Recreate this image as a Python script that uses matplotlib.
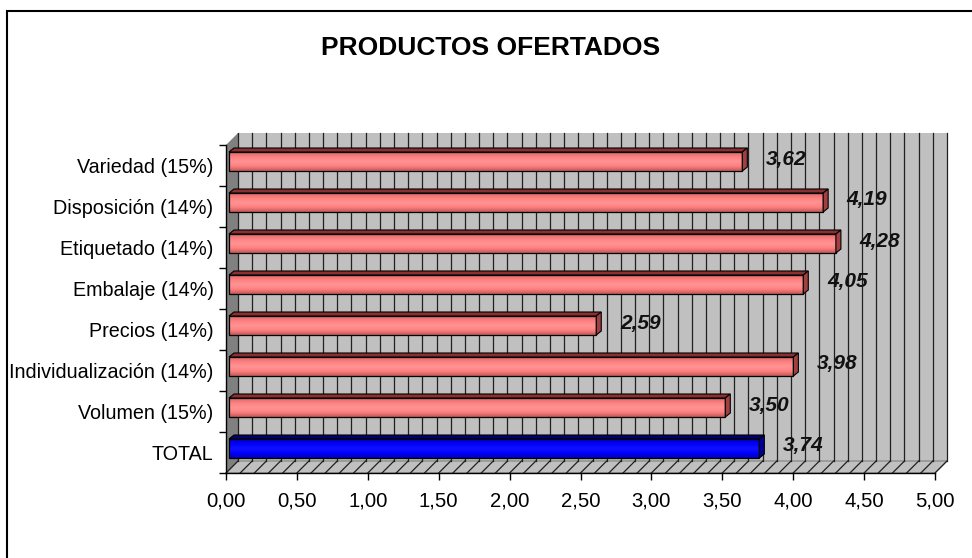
import numpy as np
import matplotlib
matplotlib.use("Agg")
import matplotlib.pyplot as plt
from matplotlib.patches import Polygon, Rectangle
from matplotlib.colors import LinearSegmentedColormap

plt.rcParams['font.family'] = ['Liberation Sans', 'DejaVu Sans']

# data (bottom to top)
categories = ['TOTAL', 'Volumen (15%)', 'Individualización (14%)', 'Precios (14%)',
              'Embalaje (14%)', 'Etiquetado (14%)', 'Disposición (14%)', 'Variedad (15%)']
values = [3.74, 3.50, 3.98, 2.59, 4.05, 4.28, 4.19, 3.62]
xticks = np.arange(0, 5.01, 0.5)
grid_steps = np.arange(0, 5.001, 0.1)

W, H = 972, 558
fig = plt.figure(figsize=(W / 100, H / 100), dpi=100)

# front plane of the 3D box, in pixels
left, right, top, bottom = 226, 935, 145, 473
ax = fig.add_axes([left / W, 1 - bottom / H, (right - left) / W, (bottom - top) / H])
ax.set_facecolor('none')
n = len(categories)
ax.set_xlim(0, 5)
ax.set_ylim(-0.5, n - 0.5)

# pixel -> data scale
sx = (right - left) / 5.0
sy = (bottom - top) / n
dx, dy = 12 / sx, 12 / sy          # wall depth
bx, by = 3 / sx, 4 / sy            # bar front offset
bdx, bdy = 5 / sx, 4 / sy          # bar depth
y0, y1 = -0.5, n - 0.5

# back wall, side wall, floor
ax.add_patch(Rectangle((dx, y0 + dy), 5, n, facecolor='#c0c0c0', edgecolor='none', zorder=0, clip_on=False))
ax.add_patch(Polygon([(0, y0), (0, y1), (dx, y1 + dy), (dx, y0 + dy)], closed=True,
                     facecolor='#808080', edgecolor='none', zorder=1, clip_on=False))
ax.add_patch(Polygon([(0, y0), (5, y0), (5 + dx, y0 + dy), (dx, y0 + dy)], closed=True,
                     facecolor='#c0c0c0', edgecolor='#808080', lw=0.8, zorder=1, clip_on=False))

# gridlines on wall and floor
for g in grid_steps:
    ax.plot([g + dx, g + dx], [y0 + dy, y1 + dy], color='#202020', lw=0.9, zorder=1, clip_on=False)
    ax.plot([g, g + dx], [y0, y0 + dy], color='#202020', lw=0.9, zorder=2, clip_on=False)

pink = LinearSegmentedColormap.from_list('pk', ['#c05858', '#ff8080', '#ff9494', '#ff8080', '#d86a6a'])
blue = LinearSegmentedColormap.from_list('bl', ['#0000b0', '#0000ff', '#1010ff', '#0000ff', '#0000c0'])
grad = np.linspace(0, 1, 64).reshape(-1, 1)

bar_h = 19 / sy
for i, (cat, v) in enumerate(zip(categories, values)):
    is_total = cat == 'TOTAL'
    cmap = blue if is_total else pink
    top_col = '#000070' if is_total else '#8a3030'
    cap_col = '#000090' if is_total else '#a04040'
    yc = i + by
    yb, yt = yc - bar_h / 2, yc + bar_h / 2
    x0, x1 = bx, bx + v
    bar = ax.barh(yc, v, height=bar_h, left=x0, color='none', edgecolor='black', lw=0.9, zorder=4)[0]
    im = ax.imshow(grad, extent=[x0, x1, yb, yt], origin='lower', cmap=cmap, aspect='auto', zorder=3)
    im.set_clip_path(bar)
    ax.add_patch(Polygon([(x0, yt), (x1, yt), (x1 + bdx, yt + bdy), (x0 + bdx, yt + bdy)], closed=True,
                         facecolor=top_col, edgecolor='black', lw=0.8, zorder=4))
    ax.add_patch(Polygon([(x1, yb), (x1, yt), (x1 + bdx, yt + bdy), (x1 + bdx, yb + bdy)], closed=True,
                         facecolor=cap_col, edgecolor='black', lw=0.8, zorder=4))
    ax.text(v + 47 / sx, yc + 2.5 / sy, f'{v:.2f}'.replace('.', ','), fontsize=15, fontweight='bold',
            fontstyle='italic', color='#111111', ha='center', va='center', zorder=5)

ax.set_xlim(0, 5)
ax.set_ylim(y0, y1)

# axes and ticks
for s in ['top', 'right']:
    ax.spines[s].set_visible(False)
for s in ['left', 'bottom']:
    ax.spines[s].set_color('black')
    ax.spines[s].set_linewidth(1.0)
    ax.spines[s].set_zorder(6)
ax.set_xticks(xticks)
ax.set_xticklabels([f'{t:.2f}'.replace('.', ',') for t in xticks], fontsize=14.6)
ax.set_yticks(np.arange(-0.5, n, 1.0))
ax.set_yticklabels([])
ax.set_yticks(np.arange(n), minor=True)
ax.set_yticklabels(categories, minor=True, fontsize=14.2)
ax.tick_params(axis='x', direction='out', length=5, width=1, pad=8)
ax.tick_params(axis='y', which='major', direction='out', length=5, width=1)
ax.tick_params(axis='y', which='minor', length=0, pad=9)

fig.text(491 / W, 1 - 48 / H, 'PRODUCTOS OFERTADOS', fontsize=19, fontweight='bold',
         ha='center', va='center')

# chart border
fig.patches.append(Rectangle((7 / W, -0.02), 1.0, 1 - 11 / H + 0.02, transform=fig.transFigure,
                             fill=False, edgecolor='black', lw=1.5))

fig.savefig('out.png', dpi=100)
